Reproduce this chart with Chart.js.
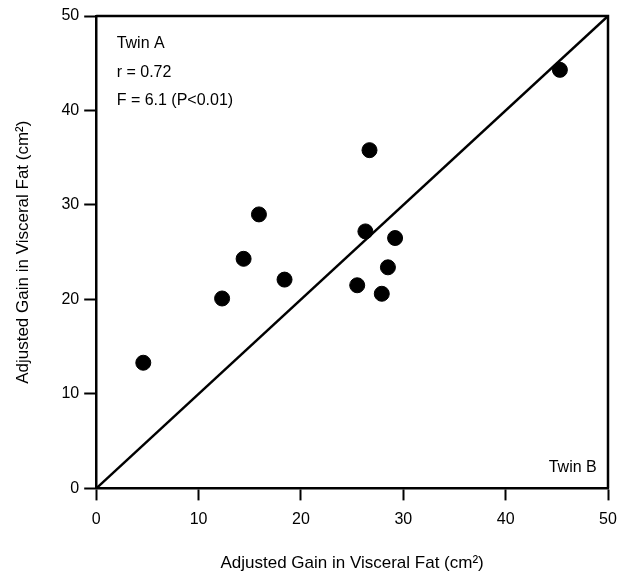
<!DOCTYPE html>
<html>
<head>
<meta charset="utf-8">
<script src="https://cdn.jsdelivr.net/npm/chart.js@4"></script>
<style>
  html, body { margin: 0; padding: 0; background: #fff; }
  #wrap { width: 629px; height: 583px; }
</style>
</head>
<body>
<div id="wrap"><canvas id="twinChart"></canvas></div>
<script>
// Twin B gain (x) vs Twin A gain (y)
const twinB = [4.6, 12.3, 14.4, 15.9, 18.4, 25.5, 26.3, 26.7, 27.9, 28.5, 29.2, 45.3];
const twinA = [13.3, 20.1, 24.3, 29.0, 22.1, 21.5, 27.2, 35.8, 20.6, 23.4, 26.5, 44.3];
const identityX = [0, 50];
const identityY = [0, 50];
const tickValues = [0, 10, 20, 30, 40, 50];
const notes = ['Twin A', 'r = 0.72', 'F = 6.1 (P<0.01)'];

const FONT = "'Liberation Sans', Arial, Helvetica, sans-serif";

// box round the plot plus the text labels
const framePlugin = {
    id: 'frame',
    afterDraw(chart) {
        const { ctx, chartArea, scales } = chart;
        ctx.save();
        ctx.strokeStyle = '#000';
        ctx.lineWidth = 2.5;
        ctx.beginPath();
        ctx.moveTo(chartArea.left, chartArea.top);
        ctx.lineTo(chartArea.right, chartArea.top);
        ctx.lineTo(chartArea.right, chartArea.bottom);
        ctx.stroke();

        ctx.fillStyle = '#000';
        ctx.font = '16px ' + FONT;
        ctx.textBaseline = 'middle';
        ctx.textAlign = 'left';
        const x0 = scales.x.getPixelForValue(2.0);
        notes.forEach((t, i) => {
            ctx.fillText(t, x0, scales.y.getPixelForValue(47.1 - i * 3.05));
        });
        ctx.textAlign = 'right';
        ctx.fillText('Twin B', scales.x.getPixelForValue(48.9), scales.y.getPixelForValue(2.2));
        ctx.restore();
    }
};

const axisCommon = {
    type: 'linear',
    min: 0,
    max: 50,
    afterBuildTicks(axis) {
        axis.ticks = tickValues.map(v => ({ value: v }));
    },
    border: { display: true, color: '#000', width: 2.5 },
    grid: {
        drawOnChartArea: false,
        drawTicks: true,
        tickLength: 12,
        tickWidth: 2,
        tickColor: '#000'
    },
    ticks: {
        color: '#000',
        font: { family: FONT, size: 16 }
    },
    title: {
        display: true,
        text: 'Adjusted Gain in Visceral Fat (cm²)',
        color: '#000',
        font: { family: FONT, size: 17 }
    }
};

new Chart(document.getElementById('twinChart'), {
    type: 'scatter',
    data: {
        datasets: [
            {
                label: 'Twins',
                data: twinB.map((x, i) => ({ x: x, y: twinA[i] })),
                backgroundColor: '#000',
                borderColor: '#000',
                pointRadius: 7.5,
                pointHoverRadius: 7.5
            },
            {
                label: 'Identity',
                data: identityX.map((x, i) => ({ x: x, y: identityY[i] })),
                showLine: true,
                borderColor: '#000',
                borderWidth: 2.5,
                pointRadius: 0,
                fill: false
            }
        ]
    },
    options: {
        responsive: true,
        maintainAspectRatio: false,
        animation: false,
        layout: { padding: { top: 16, right: 21, bottom: 9, left: 13 } },
        plugins: {
            legend: { display: false },
            tooltip: { enabled: false }
        },
        scales: {
            x: Object.assign({}, axisCommon, {
                position: 'bottom',
                ticks: Object.assign({}, axisCommon.ticks, { padding: 10 }),
                title: Object.assign({}, axisCommon.title, { padding: { top: 14, bottom: 0 } })
            }),
            y: Object.assign({}, axisCommon, {
                position: 'left',
                ticks: Object.assign({}, axisCommon.ticks, { padding: 5 }),
                title: Object.assign({}, axisCommon.title, { padding: { top: 0, bottom: 23 } })
            })
        }
    },
    plugins: [framePlugin]
});
</script>
</body>
</html>
